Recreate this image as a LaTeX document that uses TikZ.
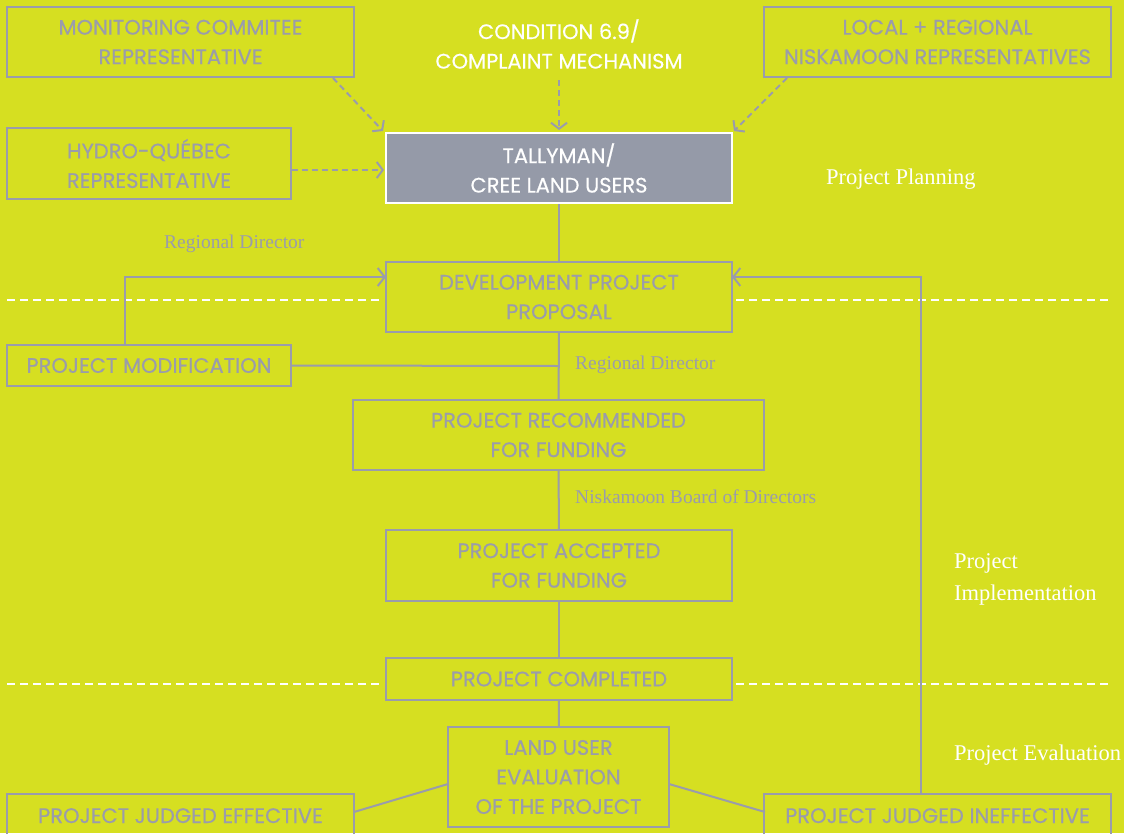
\documentclass[tikz,border=0pt]{standalone}
\usepackage{fontspec}
\setsansfont{Poppins}[FakeBold=0.4]
\setmainfont{Liberation Serif}
\usetikzlibrary{arrows.meta}
\definecolor{bg}{HTML}{D6DF21}
\definecolor{gl}{HTML}{9A9CAB}
\definecolor{gf}{HTML}{959AA8}
\tikzset{
  box/.style={draw=gl, line width=2pt, inner sep=0pt, align=center, text=gl,
    font=\sffamily\fontsize{21}{29.5}\selectfont},
  conn/.style={draw=gl, line width=2pt},
  dconn/.style={draw=gl, line width=2pt, dash pattern=on 6pt off 4pt, -{Straight Barb[length=6pt,width=16pt,line width=2pt]}},
  arr/.style={conn, -{Straight Barb[length=7pt,width=18pt,line width=2pt]}},
  sep/.style={draw=white, line width=2pt, dash pattern=on 8pt off 5pt},
  lbl/.style={text=gl, font=\rmfamily\fontsize{19.5}{20}\selectfont, anchor=west, inner sep=0pt},
  phase/.style={text=white, font=\rmfamily\fontsize{22.5}{32}\selectfont, anchor=west, inner sep=0pt, align=left}
}
\begin{document}
\begin{tikzpicture}[x=1pt,y=-1pt]
\fill[bg] (0,0) rectangle (1124,833);
\useasboundingbox (0,0) rectangle (1124,833);
% separators
\draw[sep] (7,300) -- (380,300);
\draw[sep] (736,300) -- (1111,300);
\draw[sep] (7,684) -- (380,684);
\draw[sep] (736,684) -- (1111,684);
% nodes
\node[box, minimum width=347pt, minimum height=70pt] (mon) at (180.5,42) {MONITORING COMMITEE\\REPRESENTATIVE};
\node[box, draw=none, text=white] (cond) at (559,44) {CONDITION 6.9/\\COMPLAINT MECHANISM};
\node[box, minimum width=347pt, minimum height=70pt] (loc) at (937.5,42) {LOCAL + REGIONAL\\NISKAMOON REPRESENTATIVES};
\node[box, minimum width=284pt, minimum height=71pt] (hyd) at (149,163.5) {HYDRO-QUÉBEC\\REPRESENTATIVE};
\node[box, draw=white, fill=gf, text=white, minimum width=346pt, minimum height=70pt] (tal) at (559,168) {TALLYMAN/\\CREE LAND USERS};
\node[box, fill=bg, minimum width=346pt, minimum height=70pt] (dev) at (559,297) {DEVELOPMENT PROJECT\\PROPOSAL};
\node[box, minimum width=284pt, minimum height=41pt] (mod) at (149,365.5) {PROJECT MODIFICATION};
\node[box, minimum width=411pt, minimum height=70pt] (rec) at (558.5,435) {PROJECT RECOMMENDED\\FOR FUNDING};
\node[box, minimum width=346pt, minimum height=71pt] (acc) at (559,565.5) {PROJECT ACCEPTED\\FOR FUNDING};
\node[box, fill=bg, minimum width=346pt, minimum height=42pt] (com) at (559,679) {PROJECT COMPLETED};
\node[box, minimum width=221pt, minimum height=100pt] (eva) at (558.5,777) {LAND USER\\EVALUATION\\OF THE PROJECT};
\node[box, minimum width=347pt, minimum height=60pt] (eff) at (180.5,824) {};
\node[box, minimum width=347pt, minimum height=60pt] (ine) at (937.5,824) {};
\node[box, draw=none, anchor=base] (efft) at (180.5,823) {PROJECT JUDGED EFFECTIVE};
\node[box, draw=none, anchor=base] (inet) at (937.5,823) {PROJECT JUDGED INEFFECTIVE};
% labels
\node[lbl] (l1) at (164,244) {Regional Director};
\node[lbl] (l2) at (575,365) {Regional Director};
\node[lbl] (l3) at (575,497) {Niskamoon Board of Directors};
\node[phase] (p1) at (826,179) {Project Planning};
\node[phase] (p2) at (954,579) {Project\\Implementation};
\node[phase] (p3) at (954,755) {Project Evaluation};
% coordinates
\coordinate (monend) at (333,78);
\coordinate (monhead) at (383,131);
\coordinate (lochead) at (734,131);
\coordinate (locend) at (787,78);
\coordinate (condend) at (559,80);
\coordinate (condhead) at (559,130);
\coordinate (hydhead) at (384,170);
\coordinate (devin) at (386,277);
\coordinate (devin2) at (732,277);
\coordinate (junc) at (559,366);
\coordinate (effin) at (354,812);
\coordinate (inein) at (765,812);
\coordinate (evl) at (448,784);
\coordinate (evr) at (669,784);
% connectors
\draw[dconn] (monend) -- (monhead);
\draw[dconn] (locend) -- (lochead);
\draw[dconn] (condend) -- (condhead);
\draw[dconn] (hyd.east |- hydhead) -- (hydhead);
\draw[conn] (tal) -- (dev);
\draw[conn] (dev) -- (rec);
\draw[conn] (rec) -- (acc);
\draw[conn] (acc) -- (com);
\draw[conn] (com) -- (eva);
\draw[conn] (mod.east) -- (junc);
\draw[arr] (mod.north -| 125,0) |- (devin);
\draw[arr] (ine.north -| 921,0) |- (devin2);
\draw[conn] (evl) -- (effin);
\draw[conn] (evr) -- (inein);
\end{tikzpicture}
\end{document}
